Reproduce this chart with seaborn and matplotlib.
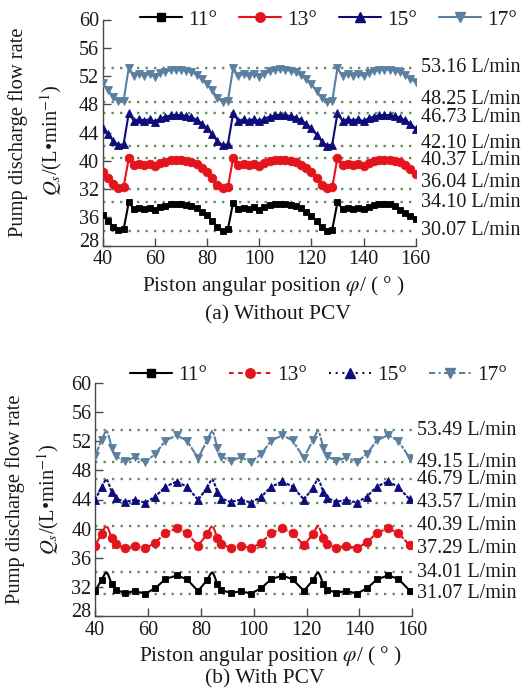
import numpy as np
import matplotlib
matplotlib.use("Agg")
import matplotlib.pyplot as plt
import matplotlib.transforms as mtransforms
import seaborn as sns
from matplotlib.lines import Line2D

# ---------------- data ----------------
labels = ["11°", "13°", "15°", "17°"]

# (a) Without PCV : piston angle (deg)
x_a = np.arange(40, 161, 2)

q11_a = [32.29, 31.52, 30.67, 30.19, 30.27, 34.10, 33.13, 33.37, 33.17, 33.37,
         33.05, 33.46, 33.66, 33.82, 33.90, 33.86, 33.78, 33.62, 33.29, 32.81,
         32.25, 31.45, 30.60, 30.12, 30.30, 34.08, 33.20, 33.35, 33.15, 33.40,
         33.08, 33.45, 33.68, 33.84, 33.92, 33.88, 33.76, 33.58, 33.25, 32.75,
         32.20, 31.40, 30.58, 30.10, 30.25, 34.10, 33.15, 33.38, 33.18, 33.36,
         33.10, 33.48, 33.70, 33.85, 33.90, 33.86, 33.58, 33.05, 32.65, 32.17,
         31.76]
q13_a = [38.42, 37.60, 36.69, 36.17, 36.26, 40.37, 39.33, 39.59, 39.37, 39.59,
         39.24, 39.68, 39.89, 40.07, 40.15, 40.11, 40.02, 39.85, 39.50, 38.98,
         38.40, 37.55, 36.62, 36.10, 36.28, 40.35, 39.38, 39.58, 39.35, 39.60,
         39.28, 39.66, 39.90, 40.08, 40.16, 40.10, 40.00, 39.82, 39.45, 38.95,
         38.35, 37.50, 36.60, 36.08, 36.25, 40.37, 39.35, 39.60, 39.38, 39.58,
         39.30, 39.70, 39.92, 40.08, 40.14, 40.11, 40.00, 39.76, 39.46, 38.90,
         38.16]
q15_a = [44.65, 43.77, 42.79, 42.24, 42.33, 46.73, 45.62, 45.90, 45.67, 45.90,
         45.53, 45.99, 46.22, 46.41, 46.50, 46.45, 46.36, 46.17, 45.80, 45.25,
         44.60, 43.72, 42.75, 42.18, 42.35, 46.70, 45.65, 45.88, 45.64, 45.92,
         45.56, 45.97, 46.24, 46.43, 46.52, 46.44, 46.33, 46.12, 45.75, 45.20,
         44.58, 43.70, 42.72, 42.15, 42.30, 46.73, 45.60, 45.91, 45.68, 45.88,
         45.58, 46.02, 46.25, 46.42, 46.50, 46.45, 46.32, 46.08, 45.71, 45.25,
         44.55]
q17_a = [50.95, 50.02, 48.99, 48.40, 48.50, 53.16, 51.98, 52.28, 52.03, 52.28,
         51.88, 52.37, 52.62, 52.82, 52.91, 52.87, 52.77, 52.57, 52.18, 51.59,
         50.90, 49.95, 48.92, 48.33, 48.52, 53.12, 52.02, 52.26, 52.00, 52.30,
         51.92, 52.35, 52.64, 52.84, 52.93, 52.86, 52.74, 52.52, 52.12, 51.52,
         50.85, 49.90, 48.90, 48.30, 48.48, 53.16, 51.96, 52.30, 52.05, 52.26,
         51.95, 52.40, 52.66, 52.84, 52.90, 52.87, 52.77, 52.52, 52.18, 51.59,
         51.10]

# (b) With PCV
x_b = [40, 42.5, 43.7, 44.4, 45.1, 46.3, 47.8, 51.3, 55.1, 59, 62.8, 66.6, 70.9, 74.7, 79,
       82.5, 83.7, 84.4, 85.1, 86.3, 87.8, 91.3, 95.1, 99, 102.8, 106.6, 110.9, 114.7, 119,
       122.5, 123.7, 124.4, 125.1, 126.3, 127.8, 131.3, 135.1, 139, 142.8, 146.6, 150.9, 154.7, 159]
# 1 = sampled point carrying a marker, 0 = curve-only point
mark_b = [1, 1, 0, 0, 0, 1, 1, 1, 1, 1, 1, 1, 1, 1, 1,
          1, 0, 0, 0, 1, 1, 1, 1, 1, 1, 1, 1, 1, 1,
          1, 0, 0, 0, 1, 1, 1, 1, 1, 1, 1, 1, 1, 1]

q11_b = [31.42, 32.98, 33.77, 34.01, 33.57, 32.39, 31.60, 31.16, 31.42, 31.07, 31.81, 33.07, 33.57, 33.07, 31.42,
         33.00, 33.78, 34.01, 33.55, 32.35, 31.58, 31.15, 31.40, 31.09, 31.80, 33.05, 33.55, 33.05, 31.45,
         32.95, 33.75, 34.00, 33.56, 32.40, 31.62, 31.18, 31.45, 31.08, 31.78, 33.02, 33.58, 33.10, 31.50]
q13_b = [37.66, 39.31, 40.14, 40.39, 39.93, 38.69, 37.85, 37.38, 37.66, 37.29, 38.07, 39.40, 40.02, 39.40, 37.66,
         39.30, 40.12, 40.38, 39.90, 38.65, 37.82, 37.36, 37.68, 37.30, 38.05, 39.38, 40.03, 39.42, 37.70,
         39.28, 40.10, 40.39, 39.92, 38.70, 37.88, 37.40, 37.65, 37.31, 38.10, 39.42, 40.05, 39.38, 37.72]
q15_b = [43.96, 45.66, 46.53, 46.79, 46.31, 45.02, 44.15, 43.67, 43.96, 43.57, 44.38, 45.76, 46.47, 45.76, 43.96,
         45.64, 46.52, 46.78, 46.28, 45.00, 44.12, 43.66, 43.98, 43.58, 44.35, 45.74, 46.48, 45.78, 44.00,
         45.62, 46.50, 46.79, 46.30, 45.05, 44.18, 43.70, 43.95, 43.57, 44.40, 45.78, 46.50, 45.72, 44.02]
q17_b = [49.93, 52.19, 53.14, 53.49, 52.84, 51.10, 49.93, 49.28, 49.80, 49.15, 50.24, 52.10, 52.80, 52.10, 49.70,
         52.15, 53.12, 53.47, 52.80, 51.05, 49.90, 49.25, 49.82, 49.17, 50.20, 52.08, 52.82, 52.12, 49.72,
         52.20, 53.15, 53.49, 52.85, 51.12, 49.95, 49.30, 49.78, 49.15, 50.25, 52.12, 52.85, 52.05, 49.70]

# reference (max/min) levels
ref_a = [53.16, 48.25, 46.73, 42.10, 40.37, 36.04, 34.10, 30.07]
ref_b = [53.49, 49.15, 46.79, 43.57, 40.39, 37.29, 34.01, 31.07]

x_ticks = [40, 60, 80, 100, 120, 140, 160]
y_ticks = [28, 32, 36, 40, 44, 48, 52, 56, 60]
y_ticklabels_a = ["28", "36", "32", "40", "44", "48", "52", "56", "60"]
y_ticklabels_b = ["28", "32", "36", "40", "44", "48", "52", "56", "60"]

# ---------------- style ----------------
sns.set_theme(style="ticks")
plt.rcParams['font.family'] = ['Liberation Serif', 'DejaVu Serif']
plt.rcParams['mathtext.fontset'] = 'stix'
plt.rcParams['axes.unicode_minus'] = False

TXT = "#1a1a1a"
SP = "#4a4a4a"
colors = ["#000000", "#e3141c", "#0c0c7a", "#5b7f9e"]
markers = ["s", "o", "^", "v"]
msizes = [4.8, 6.2, 6.2, 6.4]
ls_a = ["-", "-", "-", "-"]
ls_b = ["-", (0, (5, 0.7)), (0, (1.6, 0.7)), (0, (5, 0.7, 1.6, 0.7))]
ls_leg_b = ["-", (0, (2.2, 2.2)), (0, (1, 2.2)), (0, (3, 1.6, 1, 1.6))]

W, H = 528, 690
fig = plt.figure(figsize=(W / 100, H / 100), dpi=100)
fig.patch.set_facecolor("white")


def rect(l, t, r, b):
    return [l / W, 1 - b / H, (r - l) / W, (b - t) / H]


ax_a = fig.add_axes(rect(102.7, 19.5, 415.7, 245.5))
ax_b = fig.add_axes(rect(95, 383, 412.3, 616))


def draw(ax, xs, ys_list, styles, leg_styles, mark, refs, ref_dy, ylabels, leg_anchor):
    handles = []
    mk = None if mark is None else [i for i, m in enumerate(mark) if m]
    for ys, c, m, ms, st, lst in zip(ys_list, colors, markers, msizes, styles, leg_styles):
        kw = {}
        if mk is not None:
            kw["markevery"] = mk
        sns.lineplot(x=list(xs), y=ys, ax=ax, color=c, marker=m, markersize=ms,
                     linewidth=1.5, linestyle=st, markeredgecolor=c, markeredgewidth=0.6,
                     sort=False, estimator=None, legend=False, zorder=3, **kw)
        handles.append(Line2D([], [], color=c, marker=m, markersize=ms + 0.6, linewidth=1.5,
                              linestyle=lst, markeredgecolor=c))
    for v, dy in zip(refs, ref_dy):
        ax.axhline(v, color="#5f8f62", linestyle=(0, (1, 2.6)), linewidth=1.7, zorder=1)
        ax.annotate(f"{v:.2f} L/min", xy=(1, v), xycoords=("axes fraction", "data"),
                    xytext=(3.5, dy), textcoords="offset points", ha="left", va="center",
                    fontsize=14.5, color=TXT, annotation_clip=False)
    ax.set_xlim(40, 160)
    ax.set_ylim(28, 60)
    ax.set_xticks(x_ticks)
    ax.set_xticklabels([str(t) for t in x_ticks])
    ax.set_yticks(y_ticks)
    ax.set_yticklabels(ylabels)
    ax.set_xlabel("")
    ax.set_ylabel("")
    for s in ["top", "right"]:
        ax.spines[s].set_visible(False)
    for s in ["left", "bottom"]:
        ax.spines[s].set_color(SP)
        ax.spines[s].set_linewidth(1.0)
    ax.tick_params(direction="in", length=6, width=1.0, color=SP, labelsize=14.5,
                   labelcolor=TXT, pad=2.5)
    ax.tick_params(axis="x", pad=3.5)
    # nudge the lowest y label up slightly, as in the reference corner
    lab0 = ax.get_yticklabels()[0]
    lab0.set_transform(lab0.get_transform() +
                       mtransforms.ScaledTranslation(0, 4 / 72, fig.dpi_scale_trans))
    ax.set_facecolor("white")
    leg = ax.legend(handles, labels, loc="center left", bbox_to_anchor=leg_anchor, ncol=4,
                    frameon=False, fontsize=15.5, handlelength=1.95, handletextpad=0.3,
                    columnspacing=1.0, borderpad=0, borderaxespad=0)
    for t in leg.get_texts():
        t.set_color(TXT)


draw(ax_a, x_a, [q11_a, q13_a, q15_a, q17_a], ls_a, ls_a, None, ref_a,
     [0, 2, -3, 2, -2, 4.5, 0, 0], y_ticklabels_a, (0.119, 1.0))
draw(ax_b, x_b, [q11_b, q13_b, q15_b, q17_b], ls_b, ls_leg_b, mark_b, ref_b,
     [0, 0, 0, 0, 0, 0, 0, 0], y_ticklabels_b, (0.110, 1.034))


def ftext(px, py, s, **kw):
    fig.text(px / W, 1 - py / H, s, color=TXT, **kw)


# y labels
ftext(18, 132, "Pump discharge flow rate", rotation=90, ha="center", va="center", fontsize=14.8)
ftext(51, 140, r"$Q_s$/(L•min$^{-1}$)", rotation=90, ha="center", va="center", fontsize=14.8)
ftext(15, 499, "Pump discharge flow rate", rotation=90, ha="center", va="center", fontsize=14.8)
ftext(48, 499, r"$Q_s$/(L•min$^{-1}$)", rotation=90, ha="center", va="center", fontsize=14.8)

# x labels and captions
ftext(274, 286, r"Piston angular position $\varphi$/ ( ° )", ha="center", va="center", fontsize=15.5)
ftext(278, 315, "(a) Without PCV", ha="center", va="center", fontsize=15.5)
ftext(271, 656, r"Piston angular position $\varphi$/ ( ° )", ha="center", va="center", fontsize=15.5)
ftext(265, 679, "(b) With PCV", ha="center", va="center", fontsize=15.5)

fig.savefig("out.png", dpi=100, facecolor="white")
